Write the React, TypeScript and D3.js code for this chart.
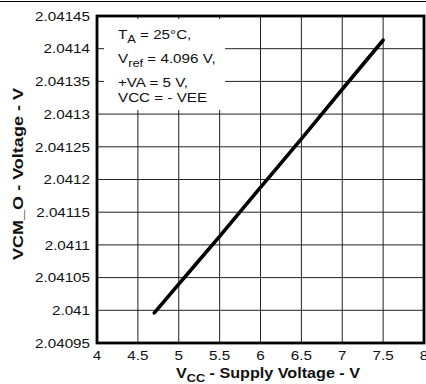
import React from "react";
import * as d3 from "d3";

const xTicks = [4, 4.5, 5, 5.5, 6, 6.5, 7, 7.5, 8];
const xTickLabels = ["4", "4.5", "5", "5.5", "6", "6.5", "7", "7.5", "8"];
const yTicks = [2.04095, 2.041, 2.04105, 2.0411, 2.04115, 2.0412, 2.04125, 2.0413, 2.04135, 2.0414, 2.04145];
const yTickLabels = ["2.04095", "2.041", "2.04105", "2.0411", "2.04115", "2.0412", "2.04125", "2.0413", "2.04135", "2.0414", "2.04145"];

const supplyV = [4.7, 5.0, 5.5, 6.0, 6.5, 7.0, 7.5];
const vcmO = [2.040996, 2.04104, 2.041113, 2.041188, 2.041262, 2.041338, 2.041413];

const W = 426;
const H = 384;
const left = 97;
const right = 424;
const top = 16;
const bottom = 343;
const SX = 1.17;
const FONT = "'Liberation Sans', Arial, Helvetica, sans-serif";

export default function App() {
  const x = d3.scaleLinear().domain([4, 8]).range([left, right]);
  const y = d3.scaleLinear().domain([2.04095, 2.04145]).range([bottom, top]);
  const line = d3
    .line<number>()
    .x((_, i) => x(supplyV[i]))
    .y((d) => y(d))
    .curve(d3.curveMonotoneX);

  const legendLines: { main: string; sub?: string; rest: string; yy: number }[] = [
    { main: "T", sub: "A", rest: " = 25°C,", yy: 39 },
    { main: "V", sub: "ref", rest: " = 4.096 V,", yy: 63 },
    { main: "+VA = 5 V,", rest: "", yy: 87 },
    { main: "VCC = - VEE", rest: "", yy: 102 },
  ];

  return (
    <svg
      width={W}
      height={H}
      style={{ position: "absolute", left: 0, top: 0, background: "#fff" }}
      fontFamily={FONT}
    >
      <rect x={0} y={0} width={W} height={H} fill="#fff" />
      <line x1={0} x2={W} y1={1.5} y2={1.5} stroke="#000" strokeWidth={1} />

      {/* grid */}
      {xTicks.map((t) => (
        <line key={"gx" + t} x1={x(t)} x2={x(t)} y1={top} y2={bottom} stroke="#222" strokeWidth={1} />
      ))}
      {yTicks.map((t) => (
        <line key={"gy" + t} x1={left} x2={right} y1={y(t)} y2={y(t)} stroke="#222" strokeWidth={1} />
      ))}

      {/* legend box */}
      <rect x={104} y={19} width={121} height={91} fill="#fff" />
      {legendLines.map((l, i) => (
        <text
          key={"lg" + i}
          transform={`translate(118,${l.yy}) scale(${SX},1)`}
          fontSize={13}
          fill="#111"
        >
          {l.main}
          {l.sub ? (
            <tspan fontSize={11} dy={4}>
              {l.sub}
            </tspan>
          ) : null}
          {l.sub ? <tspan dy={-4}>{l.rest}</tspan> : l.rest}
        </text>
      ))}

      {/* data */}
      <path
        d={line(vcmO) || ""}
        fill="none"
        stroke="#000"
        strokeWidth={3.6}
        strokeLinecap="round"
        strokeLinejoin="round"
      />

      {/* frame */}
      <rect x={left} y={top} width={right - left} height={bottom - top} fill="none" stroke="#000" strokeWidth={2.8} />

      {/* y tick labels */}
      {yTicks.map((t, i) => (
        <text
          key={"yl" + t}
          transform={`translate(90,${y(t) + 4.7}) scale(${SX},1)`}
          textAnchor="end"
          fontSize={13}
          fill="#111"
        >
          {yTickLabels[i]}
        </text>
      ))}

      {/* x tick labels */}
      {xTicks.map((t, i) => (
        <text
          key={"xl" + t}
          transform={`translate(${x(t)},360) scale(${SX},1)`}
          textAnchor="middle"
          fontSize={13}
          fill="#111"
        >
          {xTickLabels[i]}
        </text>
      ))}

      {/* x title */}
      <text x={176} y={378} fontSize={14} fontWeight="bold" fill="#111" textLength={184} lengthAdjust="spacingAndGlyphs">
        V<tspan fontSize={11} dy={4}>CC</tspan>
        <tspan dy={-4}> - Supply Voltage -  V</tspan>
      </text>

      {/* y title */}
      <text
        transform={`translate(23,174) rotate(-90)`}
        textAnchor="middle"
        fontSize={14.5}
        fontWeight="bold"
        fill="#111"
        textLength={172}
        lengthAdjust="spacingAndGlyphs"
      >
        VCM_O - Voltage - V
      </text>
    </svg>
  );
}
